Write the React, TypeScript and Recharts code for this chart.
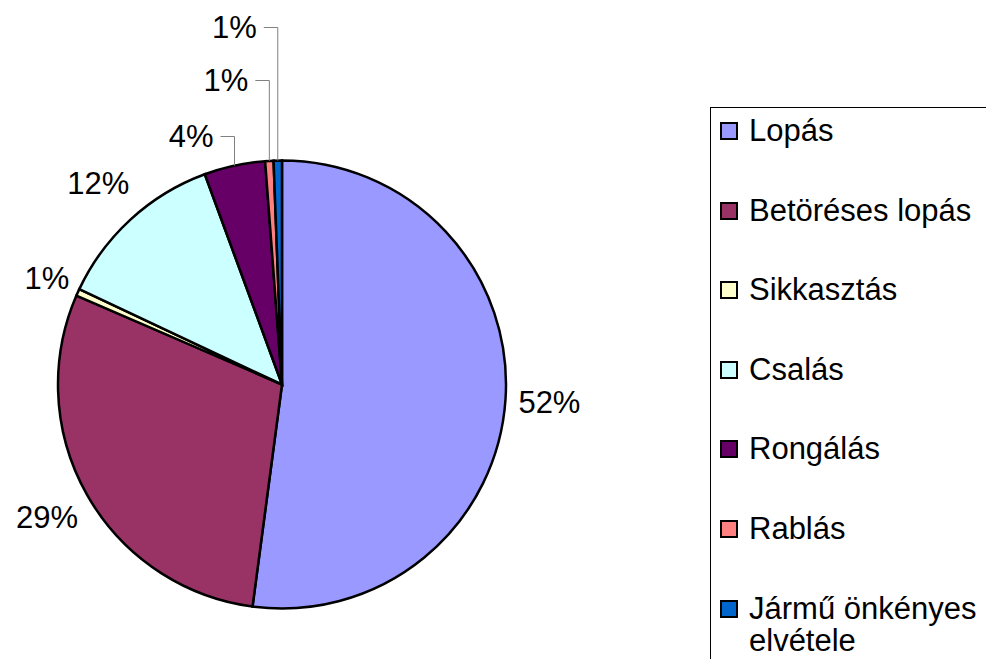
import { Cell, Legend, Pie, PieChart } from "recharts";

const categories = [
  "Lopás",
  "Betöréses lopás",
  "Sikkasztás",
  "Csalás",
  "Rongálás",
  "Rablás",
  "Jármű önkényes elvétele",
];
const shares = [52.1, 29.4, 0.5, 12.4, 4.4, 0.6, 0.6];
const colors = ["#9999FF", "#993366", "#FFFFCC", "#CCFFFF", "#660066", "#FF8080", "#0066CC"];

// how far each label sits: radial gap for the normal ones, lift above the pie for the crowded ones
const labelGap = [44, 46, 34, 48, 0, 0, 0];
const labelLift = [0, 0, 0, 0, 24, 80, 133];

const font = "'Liberation Sans', Arial, sans-serif";
const RAD = Math.PI / 180;

const data = categories.map((name, i) => ({ name, value: shares[i] }));

function renderLabel(props: any) {
  const { cx, cy, midAngle, outerRadius, index, value } = props;
  const text = `${Math.round(value)}%`;
  const cos = Math.cos(-midAngle * RAD);
  const sin = Math.sin(-midAngle * RAD);
  const style = { fontFamily: font, fontSize: 31, fill: "#000" };

  if (labelLift[index] > 0) {
    const x0 = cx + outerRadius * cos;
    const y0 = cy + outerRadius * sin;
    const yE = cy - outerRadius - labelLift[index];
    const xE = x0 - 14;
    return (
      <g key={`lbl-${index}`}>
        <polyline
          points={`${x0},${y0} ${x0},${yE} ${xE},${yE}`}
          fill="none"
          stroke="#808080"
          strokeWidth={1}
        />
        <text x={xE - 7} y={yE} textAnchor="end" dominantBaseline="central" style={style}>
          {text}
        </text>
      </g>
    );
  }

  const r = outerRadius + labelGap[index];
  return (
    <text
      key={`lbl-${index}`}
      x={cx + r * cos}
      y={cy + r * sin}
      textAnchor="middle"
      dominantBaseline="central"
      style={style}
    >
      {text}
    </text>
  );
}

function LegendBox() {
  return (
    <div
      style={{
        border: "1px solid #000",
        width: 300,
        height: 600,
        boxSizing: "border-box",
        paddingTop: 7,
        paddingLeft: 9,
        fontFamily: font,
        fontSize: 31,
        color: "#000",
        background: "#fff",
      }}
    >
      {categories.map((name, i) => (
        <div key={name} style={{ display: "flex", alignItems: "flex-start", height: 79.6 }}>
          <div
            style={{
              width: 18,
              height: 18,
              boxSizing: "border-box",
              border: "2px solid #000",
              background: colors[i],
              marginTop: 7,
              marginRight: 11,
              flexShrink: 0,
            }}
          />
          <div style={{ lineHeight: "32px", width: 235 }}>{name}</div>
        </div>
      ))}
    </div>
  );
}

export default function App() {
  return (
    <div
      style={{
        position: "absolute",
        left: 0,
        top: 0,
        width: 986,
        height: 659,
        overflow: "hidden",
        background: "#fff",
      }}
    >
      <PieChart width={986} height={659} margin={{ top: 0, right: 0, bottom: 0, left: 0 }}>
        <Pie
          data={data}
          dataKey="value"
          nameKey="name"
          cx={282}
          cy={384.5}
          outerRadius={224}
          startAngle={90}
          endAngle={-270}
          stroke="#000"
          strokeWidth={2.5}
          label={renderLabel}
          labelLine={false}
          isAnimationActive={false}
        >
          {data.map((d, i) => (
            <Cell key={d.name} fill={colors[i]} />
          ))}
        </Pie>
        <Legend
          layout="vertical"
          align="right"
          verticalAlign="top"
          content={() => <LegendBox />}
          wrapperStyle={{ position: "absolute", left: 710, top: 107, width: 300 }}
        />
      </PieChart>
    </div>
  );
}
